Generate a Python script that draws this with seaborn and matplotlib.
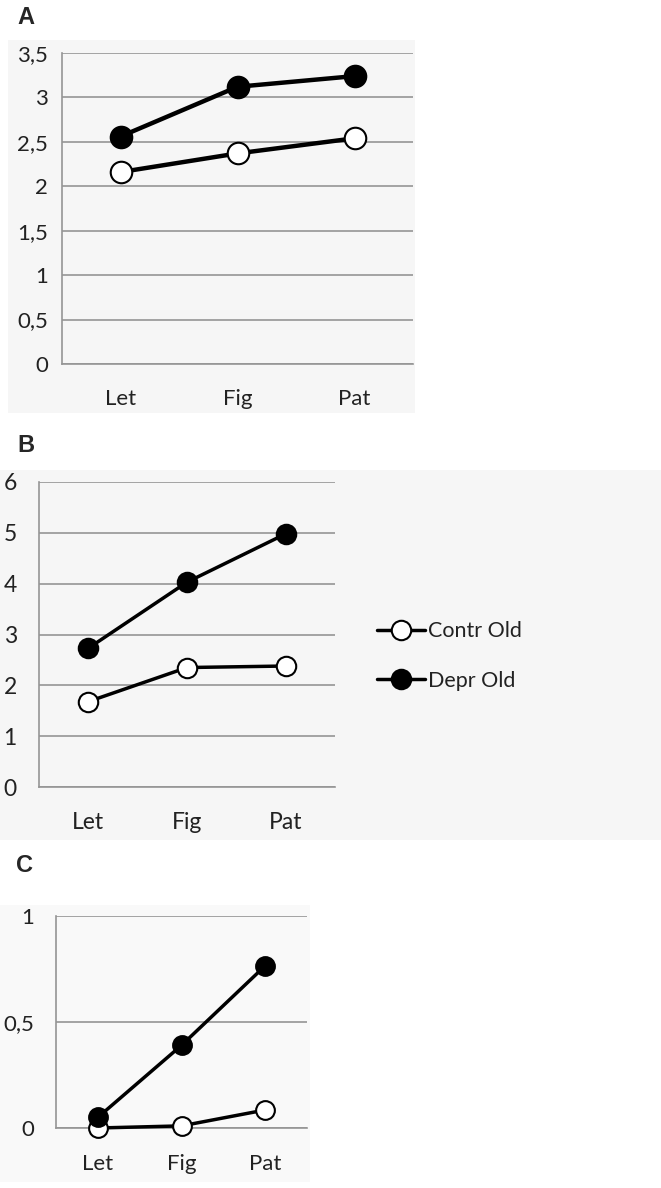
import matplotlib
matplotlib.use("Agg")
import matplotlib.pyplot as plt
import matplotlib.patches as mpatches
from matplotlib.ticker import FixedLocator, FuncFormatter
import seaborn as sns
import pandas as pd

# data
tasks = ["Let", "Fig", "Pat"]
groups = ["Contr Old", "Depr Old"]

a_contr = [2.16, 2.37, 2.54]
a_depr = [2.56, 3.12, 3.24]
b_contr = [1.68, 2.35, 2.38]
b_depr = [2.73, 4.03, 4.98]
c_contr = [0.0, 0.01, 0.085]
c_depr = [0.05, 0.39, 0.765]

sns.set_style("white")
plt.rcParams["font.family"] = ["Lato", "DejaVu Sans"]

W, H = 661, 1188
fig = plt.figure(figsize=(W / 100, H / 100), dpi=100)

def px_axes(left, top, right, bottom):
    return fig.add_axes([left / W, 1 - bottom / H, (right - left) / W, (bottom - top) / H])

def bg_box(left, top, right, bottom, col="#f6f6f6"):
    fig.patches.append(mpatches.Rectangle((left / W, 1 - bottom / H), (right - left) / W,
                                          (bottom - top) / H, transform=fig.transFigure,
                                          facecolor=col, edgecolor="none", zorder=-1))

grid_col = "#959595"

def draw_panel(ax, contr, depr, ymax, ystep, fs, ms, lw, ypad, xpad):
    df = pd.DataFrame({"task": tasks * 2,
                       "pos": [0, 1, 2] * 2,
                       "value": contr + depr,
                       "group": [groups[0]] * 3 + [groups[1]] * 3})
    for g, face in zip(groups, ["white", "black"]):
        sub = df[df["group"] == g]
        sns.lineplot(data=sub, x="pos", y="value", ax=ax, color="black", lw=lw,
                     marker="o", markersize=ms, markerfacecolor=face,
                     markeredgecolor="black", markeredgewidth=1.5,
                     clip_on=False, zorder=5, label=g, legend=False)
    ax.set_facecolor("none")
    ax.set_xlim(-0.5, 2.5)
    ax.set_ylim(0, ymax)
    n = int(round(ymax / ystep))
    yt = [i * ystep for i in range(n + 1)]
    ax.yaxis.set_major_locator(FixedLocator(yt))
    ax.yaxis.set_major_formatter(FuncFormatter(lambda v, p: f"{v:g}".replace(".", ",")))
    ax.xaxis.set_major_locator(FixedLocator([0, 1, 2]))
    ax.set_xticklabels(tasks)
    ax.xaxis.set_minor_locator(FixedLocator([-0.5, 0.5, 1.5, 2.5]))
    ax.tick_params(axis="x", which="major", length=0, pad=xpad, labelsize=fs, labelcolor="#222222")
    ax.tick_params(axis="x", which="minor", length=6, width=1.2, color=grid_col, direction="out")
    ax.tick_params(axis="y", which="major", length=6, width=1.2, color=grid_col,
                   direction="out", pad=ypad, labelsize=fs, labelcolor="#222222")
    ax.grid(axis="y", color=grid_col, lw=1.2)
    ax.set_axisbelow(True)
    for s in ["top", "right"]:
        ax.spines[s].set_visible(False)
    for s in ["left", "bottom"]:
        ax.spines[s].set_color(grid_col)
        ax.spines[s].set_linewidth(1.2)
    ax.set_xlabel("")
    ax.set_ylabel("")

# panel backgrounds
bg_box(8, 40, 415, 413)
bg_box(0, 470, 661, 840)
bg_box(0, 905, 310, 1182, "#f9f9f9")

# A
axA = px_axes(62, 53, 413, 364)
draw_panel(axA, a_contr, a_depr, 3.5, 0.5, 16, 15.5, 3.2, 4, 18)

# B
axB = px_axes(39, 482, 335, 787)
draw_panel(axB, b_contr, b_depr, 6, 1, 16.5, 14, 2.5, 10, 18)
handles, labels = axB.get_legend_handles_labels()
fig.legend(handles, labels, loc="center left", bbox_to_anchor=(358 / W, 1 - 656 / H),
           frameon=False, fontsize=15.5, handlelength=2.2, handletextpad=0.15,
           labelspacing=1.35, labelcolor="#222222")

# C
axC = px_axes(56, 916, 307, 1128)
draw_panel(axC, c_contr, c_depr, 1, 0.5, 16, 13.5, 2.5, 10, 19)

for lab, (x, y) in zip(["A", "B", "C"], [(17, 18), (17, 445), (16, 866)]):
    fig.text(x / W, 1 - y / H, lab, fontsize=17, fontweight="bold",
             family=["Liberation Sans", "DejaVu Sans"], va="center", ha="left")

fig.savefig("out.png", dpi=100, facecolor="white")
